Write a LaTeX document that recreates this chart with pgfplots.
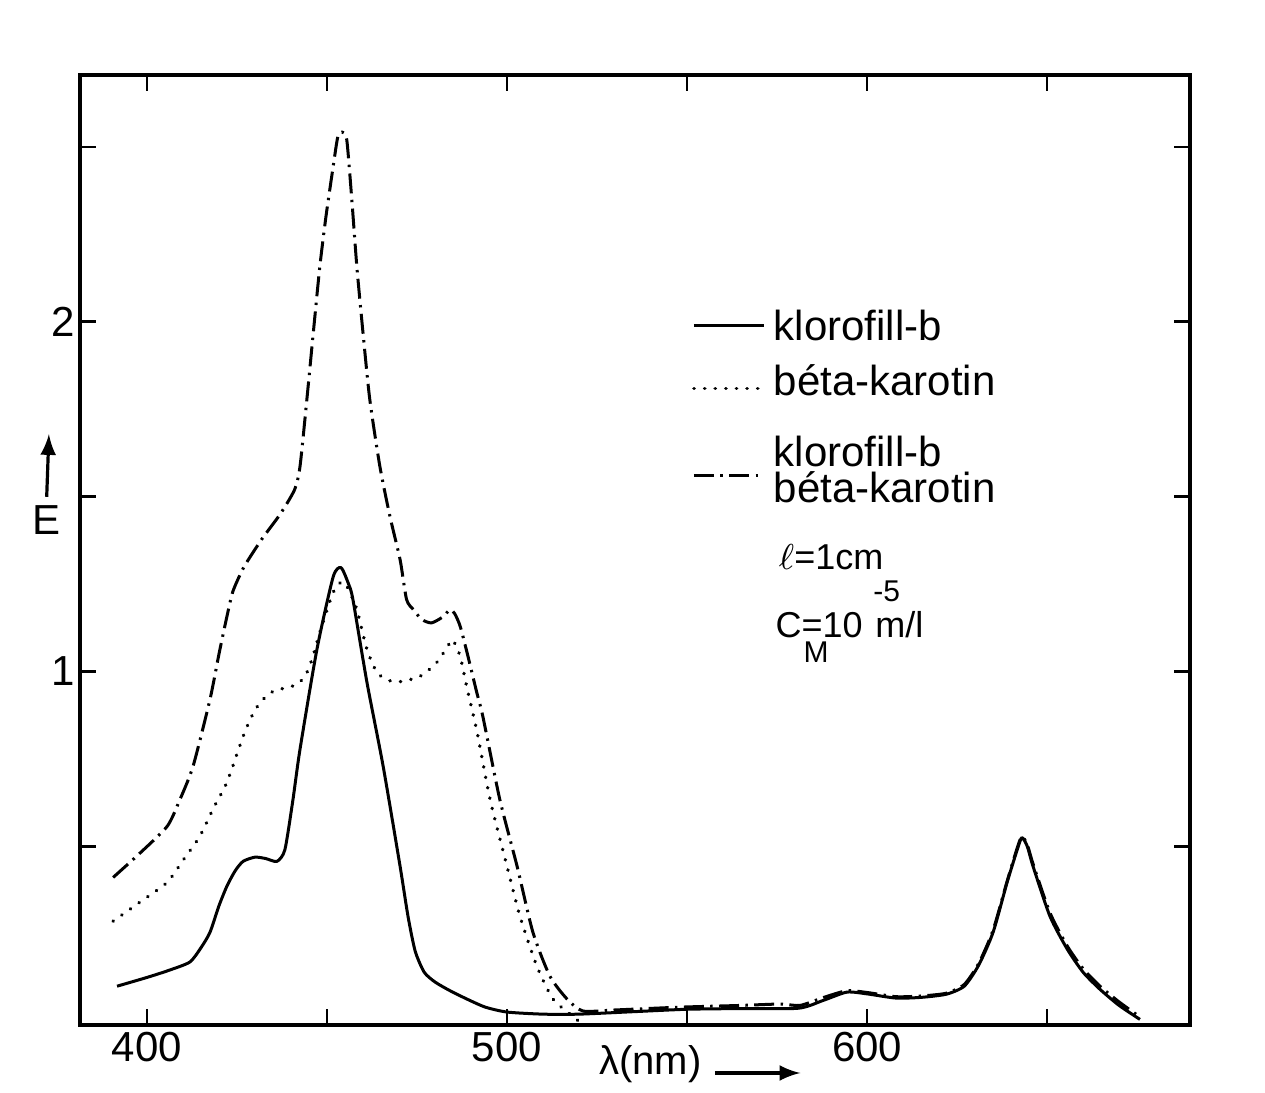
\documentclass[border=0pt]{standalone}
\usepackage{pgfplots}
\pgfplotsset{compat=1.18}
\usepackage{fontspec}
\setmainfont{Liberation Sans}
\pgfplotstableread{
x y
391.7 0.100
400 0.125
406 0.145
411.9 0.169
415 0.21
417.5 0.254
420 0.33
422.2 0.386
424.5 0.43
426.7 0.457
430 0.469
433 0.465
436.1 0.457
438.3 0.49
440.5 0.63
442.5 0.777
447.2 1.063
451.7 1.27
453.9 1.297
456 1.25
457.2 1.206
461.1 0.969
465.6 0.729
470.3 0.443
472.5 0.3
474.5 0.2
477 0.14
480 0.112
484 0.088
488.9 0.063
494 0.04
500 0.026
510 0.02
520 0.02
535 0.027
550 0.034
565 0.036
581 0.037
588 0.06
594.4 0.083
600 0.078
608 0.066
615 0.068
622 0.077
627 0.1
631 0.16
635 0.254
638.9 0.397
641.7 0.49
643 0.525
644.5 0.5
646.1 0.443
650.8 0.3
655.6 0.206
660 0.14
664.7 0.091
670 0.045
675.8 0.005
}\klorofill
\pgfplotstableread{
x y
390.6 0.286
398 0.34
405.6 0.397
410 0.46
414.7 0.529
418.5 0.61
422.2 0.683
426.7 0.814
429 0.87
431.4 0.911
435 0.943
441.7 0.963
444.4 0.997
446 1.04
448 1.111
451.7 1.226
454.2 1.257
456 1.235
458.3 1.177
461.1 1.063
463.9 0.997
467 0.975
470.3 0.971
475.8 0.986
480.5 1.026
484.2 1.083
485 1.09
487 1.043
488.8 0.957
491.7 0.826
495.3 0.634
500 0.443
503.6 0.3
508.3 0.157
512.8 0.063
518.3 0.014
521 -0.01
523 -0.03
}\karotin
\pgfplotstableread{
x y
390.6 0.411
398 0.48
405.6 0.557
409 0.63
412.8 0.729
417.5 0.92
420 1.05
422.2 1.157
423.9 1.23
427 1.3
432 1.38
437 1.45
441 1.52
442.5 1.586
444.4 1.777
446.2 1.969
448 2.157
449.7 2.3
451.7 2.443
453 2.529
454.2 2.543
455.5 2.52
456.9 2.349
458.3 2.157
460 1.969
461.9 1.777
464.7 1.586
467.5 1.443
470.3 1.32
472.1 1.206
474 1.177
476.3 1.149
479 1.139
482 1.155
484.2 1.177
485.5 1.165
487 1.129
489 1.05
491.6 0.94
493.3 0.871
498 0.634
502.8 0.443
507.2 0.254
511.9 0.129
516.7 0.063
521.1 0.029
530 0.032
548 0.04
565 0.045
576 0.049
581.4 0.045
588 0.068
594.4 0.087
600 0.082
608 0.07
615 0.072
622 0.08
627 0.105
631 0.165
635 0.26
638.9 0.4
641.7 0.495
643 0.528
644.5 0.505
646.1 0.45
650.8 0.31
655.6 0.215
660 0.15
664.7 0.1
670 0.055
675.8 0.012
}\kevert
\begin{document}
\begin{tikzpicture}
\begin{axis}[
  at={(0,0)}, anchor=south west,
  scale only axis, width=277.5pt, height=237.5pt,
  xmin=381.4, xmax=689.7, ymin=-0.011, ymax=2.706,
  clip mode=individual,
  xtick={400,450,500,550,600,650}, xticklabels={400,,500,,600,},
  ytick={0.5,1,1.5,2,2.5}, yticklabels={,1,,2,},
  tick align=inside, major tick length=4pt,
  tick style={line width=0.7pt, black},
  axis line style={line width=0.8pt},
  ticklabel style={font=\fontsize{10.5}{12}\selectfont},
  xticklabel style={yshift=1.75pt},
  yticklabel style={xshift=2.25pt},
  /pgf/number format/assume math mode=true,
  legend style={draw=none, fill=none, at={(rel axis cs:0.54,0.77)}, anchor=north west,
    font=\fontsize{10.5}{9.5}\selectfont, row sep=1.85pt, cells={anchor=west},
    nodes={text depth=}},
  legend image code/.code={\draw[#1] (0pt,0pt) -- (17.5pt,0pt);},
  every axis plot/.append style={black, line width=0.75pt, line join=round},
]
\addplot[solid, smooth, tension=0.4] table {\klorofill};
\addlegendentry{klorofill-b}
\addplot[line cap=round, dash pattern=on 0.05pt off 2.6pt, line width=0.9pt, smooth, tension=0.4] table {\karotin};
\addlegendentry{béta-karotin\rule[-4.3pt]{0pt}{1pt}}
\addplot[dash pattern=on 5pt off 1.6pt on 0.6pt off 1.6pt, smooth, tension=0.4] table {\kevert};
\addlegendentry{\begin{tabular}[c]{@{}l@{}}klorofill-b\\[-1.5pt]béta-karotin\end{tabular}}
\node[anchor=base west, inner sep=0pt, font=\fontsize{9}{11}\selectfont] at (rel axis cs:0.629,0.479) {$\ell$=1cm};
\node[anchor=base west, inner sep=0pt, font=\fontsize{9}{11}\selectfont] at (rel axis cs:0.626,0.408)
  {C\rlap{\kern0.5pt\raisebox{-6.25pt}{\fontsize{7.5}{8}\selectfont M}}=10\kern0.35em\rlap{\kern-0.5pt\raisebox{9pt}{\fontsize{7.5}{8}\selectfont -5}}m/l};
\node[font=\fontsize{10.5}{12}\selectfont] at (axis description cs:-0.03,0.532) {E};
\draw[line width=0.8pt, -latex] (axis description cs:-0.03,0.556) -- (axis description cs:-0.028,0.622);
\node[anchor=base west, inner sep=0pt, font=\fontsize{10}{12}\selectfont] at ([yshift=-12.5pt]axis description cs:0.467,0) {λ(nm)};
\draw[line width=0.8pt, -latex] ([yshift=-12pt]axis description cs:0.572,0) -- ([yshift=-12pt]axis description cs:0.649,0);
\end{axis}
\path[use as bounding box] (-20pt,-17pt) rectangle (296.25pt,256.25pt);
\end{tikzpicture}
\end{document}
